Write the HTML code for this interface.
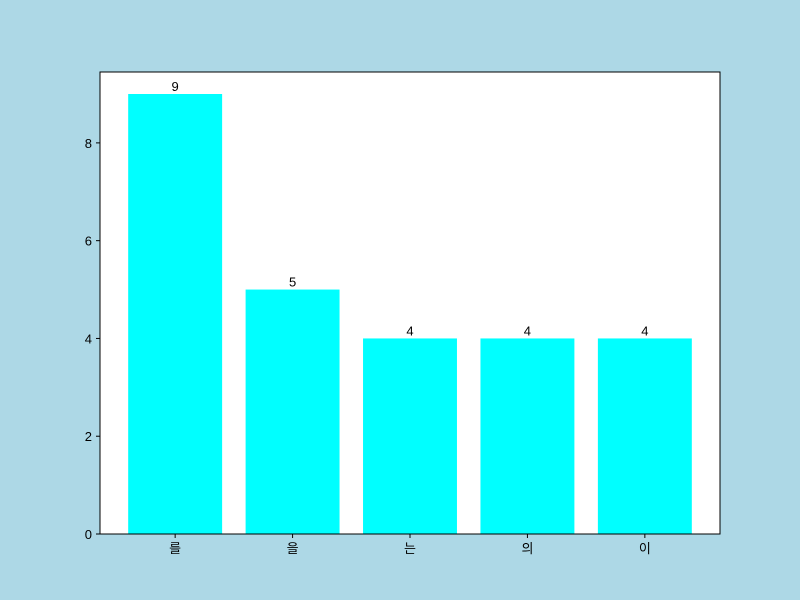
<!DOCTYPE html>
<html><head><meta charset="utf-8"><style>
html,body{margin:0;padding:0;width:800px;height:600px;overflow:hidden;background:#add8e6;}
svg{display:block;}
svg text{font-family:"Liberation Sans","DejaVu Sans","Noto Sans CJK KR",sans-serif;font-size:13px;fill:#000;}
</style></head><body>
<svg width="800" height="600">
<rect x="0" y="0" width="800" height="600" fill="#add8e6"/>
<rect x="100" y="72" width="620" height="462" fill="#fff"/>
<g id="bars"></g>
<g id="axes"></g>
<rect x="100" y="72" width="620" height="462" fill="none" stroke="#000" stroke-width="1"/>
</svg>
<script>
const categories = ["를","을","는","의","이"];
const values = [9,5,4,4,4];
const yTicks = [0,2,4,6,8];
const L=100,R=720,T=72,B=534;
const xmin=-0.64,xmax=4.64,ymax=9.45;
const xs=v=>L+(v-xmin)/(xmax-xmin)*(R-L);
const ys=v=>B-v/ymax*(B-T);
const ns="http://www.w3.org/2000/svg";
const bars=document.getElementById('bars'),axes=document.getElementById('axes');
function mk(tag,attrs,parent,text){const e=document.createElementNS(ns,tag);for(const k in attrs)e.setAttribute(k,attrs[k]);if(text!==undefined)e.textContent=text;parent.appendChild(e);return e;}
categories.forEach((c,i)=>{
  const x0=xs(i-0.4),x1=xs(i+0.4);
  const r=mk('rect',{x:x0,y:ys(values[i]),width:x1-x0,height:B-ys(values[i]),fill:'#00ffff'},bars);
  
  
  const t=mk('text',{x:xs(i),y:ys(values[i])-3,'text-anchor':'middle'},bars,String(values[i]));
  
  
  const tk=mk('line',{x1:xs(i),x2:xs(i),y1:B,y2:B+4,stroke:'#000'},axes);
  
  
  const tl=mk('text',{x:xs(i),y:B+19,'text-anchor':'middle'},axes,c);
  
  
});
yTicks.forEach(v=>{
  const tk=mk('line',{x1:L-4,x2:L,y1:ys(v),y2:ys(v),stroke:'#000'},axes);
  
  
  const tl=mk('text',{x:L-8,y:ys(v)+5,'text-anchor':'end'},axes,String(v));
  
  
});
</script>
</body></html>
